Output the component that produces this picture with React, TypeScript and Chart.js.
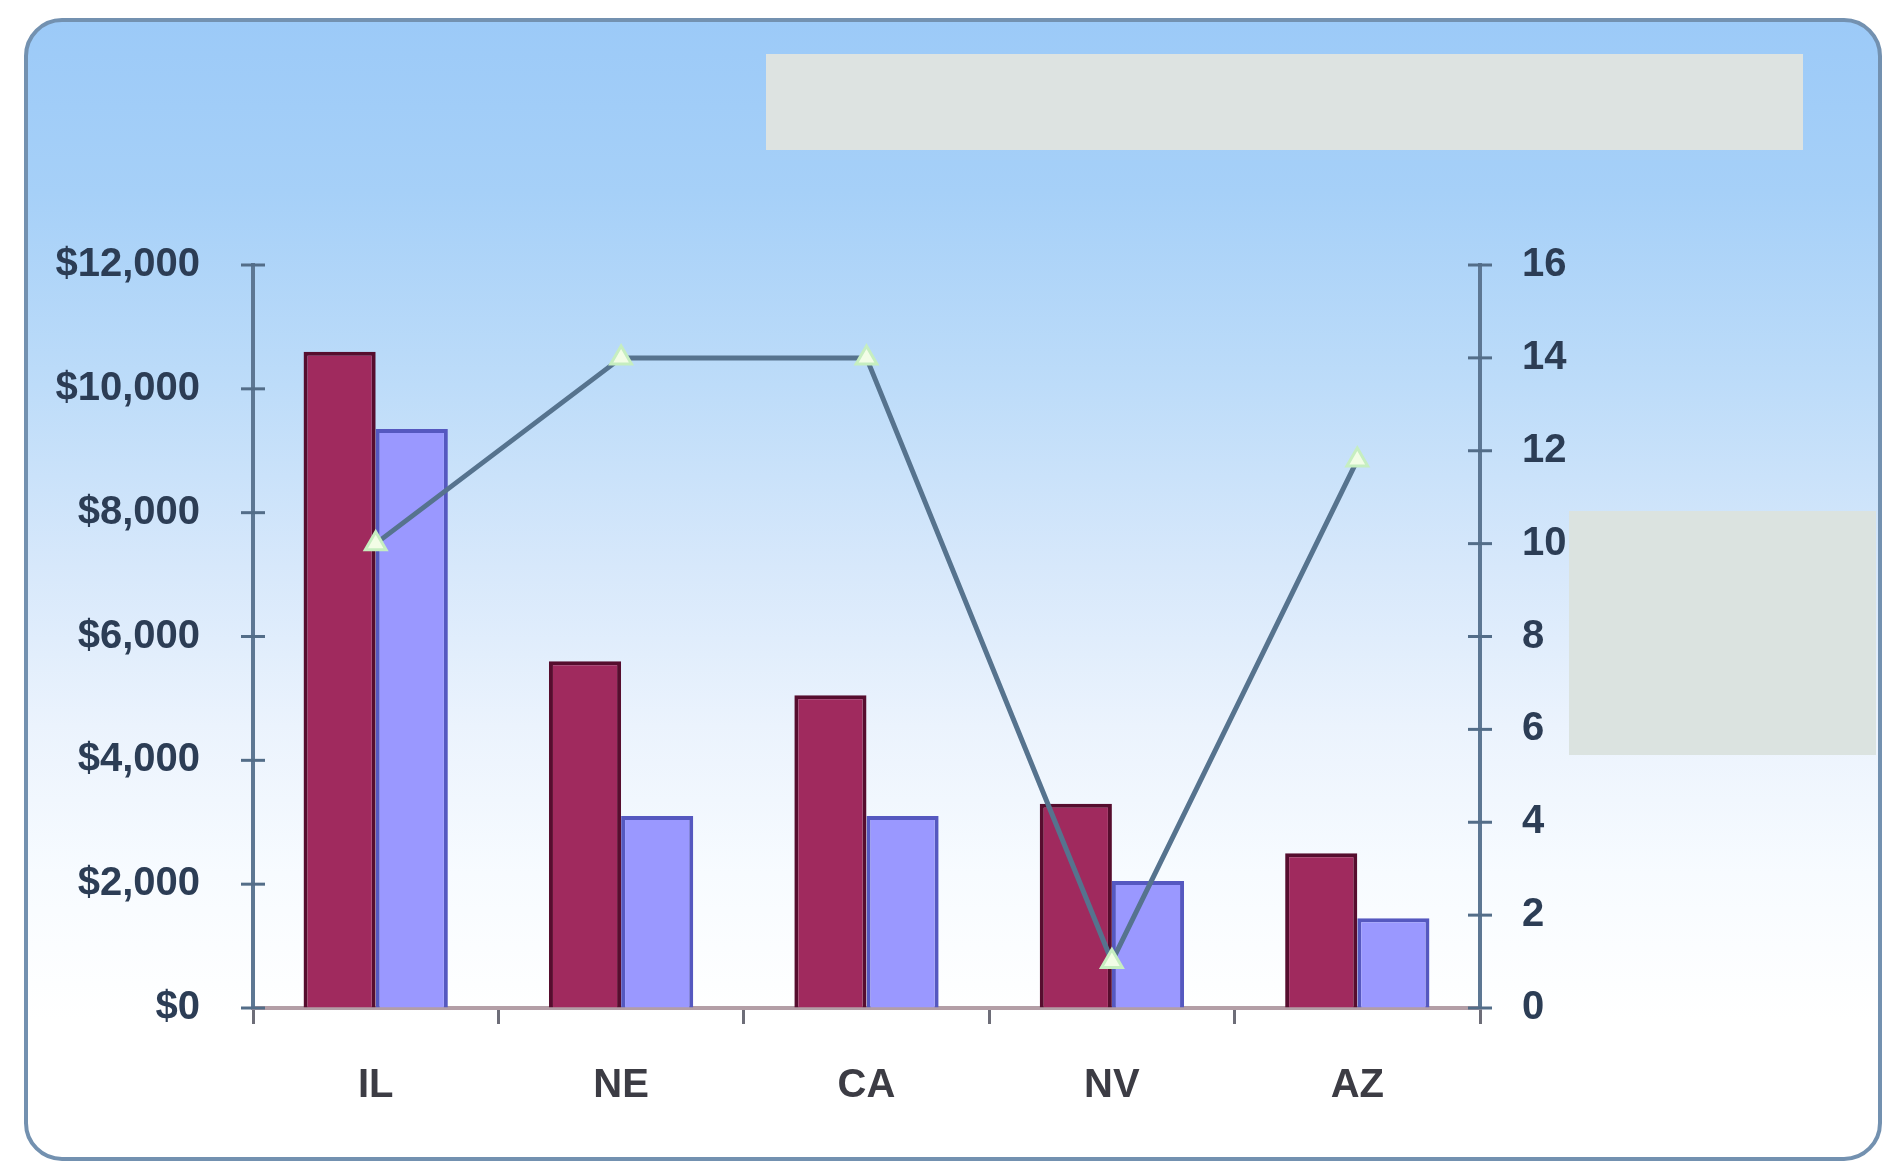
import React, { useEffect, useRef } from "react";
import { Chart, registerables } from "chart.js";

Chart.register(...registerables);

const categories = ["IL", "NE", "CA", "NV", "AZ"];
const seriesA = [10600, 5600, 5050, 3300, 2500];
const seriesB = [9350, 3100, 3100, 2050, 1450];
const lineSeries = [10, 14, 14, 1, 11.8];
const leftTicks = [0, 2000, 4000, 6000, 8000, 10000, 12000];
const rightTicks = [0, 2, 4, 6, 8, 10, 12, 14, 16];

const W = 1885;
const H = 1161;

const crossTicks = {
  id: "crossTicks",
  afterDatasetsDraw(chart: any) {
    const ctx = chart.ctx;
    ctx.save();
    ctx.strokeStyle = "#536d88";
    ctx.lineWidth = 3;
    const yl = chart.scales.y;
    const yr = chart.scales.y1;
    leftTicks.forEach((v) => {
      const p = yl.getPixelForValue(v);
      ctx.beginPath();
      ctx.moveTo(yl.right - 12, p);
      ctx.lineTo(yl.right + 12, p);
      ctx.stroke();
    });
    rightTicks.forEach((v) => {
      const p = yr.getPixelForValue(v);
      ctx.beginPath();
      ctx.moveTo(yr.left - 12, p);
      ctx.lineTo(yr.left + 12, p);
      ctx.stroke();
    });
    ctx.restore();
  },
};

export default function App() {
  const ref = useRef<HTMLCanvasElement>(null);
  useEffect(() => {
    document.body.style.margin = "0";
    const font = { family: "'Liberation Sans', Arial, sans-serif", size: 40, weight: "bold" as const };
    const chart = new Chart(ref.current as HTMLCanvasElement, {
      type: "bar",
      data: {
        labels: categories,
        datasets: [
          {
            type: "line",
            data: lineSeries,
            yAxisID: "y1",
            borderColor: "#56738e",
            borderWidth: 5,
            pointStyle: "triangle",
            pointRadius: 12,
            pointBackgroundColor: "#f2fde6",
            pointBorderColor: "#c6eec0",
            pointBorderWidth: 3,
            tension: 0,
            order: 0,
          } as any,
          {
            data: seriesA,
            yAxisID: "y",
            backgroundColor: "#a02a5e",
            borderColor: "#560d2e",
            borderWidth: 4,
            order: 1,
          },
          {
            data: seriesB,
            yAxisID: "y",
            backgroundColor: "#9a98ff",
            borderColor: "#5558c0",
            borderWidth: 4,
            order: 1,
          },
        ],
      },
      options: {
        responsive: false,
        animation: false,
        layout: { padding: { top: 265, left: 0, right: 285, bottom: 0 } },
        plugins: { legend: { display: false }, tooltip: { enabled: false } },
        datasets: { bar: { categoryPercentage: 0.588, barPercentage: 1 } },
        scales: {
          x: {
            offset: true,
            grid: {
              display: true,
              drawOnChartArea: false,
              drawTicks: true,
              tickLength: 16,
              color: "#6d6d78",
              lineWidth: 3,
            },
            border: { display: true, color: "#b39ea6", width: 4 },
            ticks: { font, color: "#3c3c44", padding: 38 },
            afterFit: (s: any) => {
              s.height = 153;
            },
          },
          y: {
            position: "left",
            min: 0,
            max: 12000,
            afterBuildTicks: (s: any) => {
              s.ticks = leftTicks.map((v) => ({ value: v }));
            },
            grid: { display: true, drawOnChartArea: false, drawTicks: false },
            border: { display: true, color: "#5d7793", width: 4 },
            ticks: {
              font,
              color: "#2c3d55",
              padding: 53,
              callback: (v: any) => "$" + Number(v).toLocaleString("en-US"),
            },
            afterFit: (s: any) => {
              s.width = 253;
            },
          },
          y1: {
            position: "right",
            min: 0,
            max: 16,
            afterBuildTicks: (s: any) => {
              s.ticks = rightTicks.map((v) => ({ value: v }));
            },
            grid: { display: true, drawOnChartArea: false, drawTicks: false },
            border: { display: true, color: "#5d7793", width: 4 },
            ticks: { font, color: "#2c3d55", padding: 42 },
            afterFit: (s: any) => {
              s.width = 120;
            },
          },
        },
      },
      plugins: [crossTicks],
    });
    return () => chart.destroy();
  }, []);

  return (
    <div style={{ position: "absolute", left: 0, top: 0, width: W, height: H, background: "#ffffff", overflow: "hidden" }}>
      <div
        style={{
          position: "absolute",
          left: 24,
          top: 18,
          width: 1850,
          height: 1135,
          border: "4px solid #7391b0",
          borderRadius: 38,
          background:
            "linear-gradient(to bottom, #9ccaf8 0%, #a6d0f8 15%, #bddcf9 32%, #d7e8fb 48%, #ebf3fd 62%, #f7fbff 75%, #ffffff 88%)",
        }}
      />
      <div style={{ position: "absolute", left: 766, top: 54, width: 1037, height: 96, background: "#dde3e1" }} />
      <div style={{ position: "absolute", left: 1569, top: 511, width: 307, height: 244, background: "#dbe3e0" }} />
      <canvas ref={ref} width={W} height={H} style={{ position: "absolute", left: 0, top: 0, width: W, height: H }} />
    </div>
  );
}
